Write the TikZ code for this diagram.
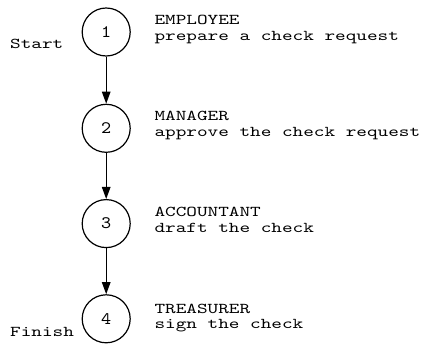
\documentclass[tikz,border=0pt]{standalone}
\usepackage{fontspec}
\usetikzlibrary{arrows.meta}
\newfontfamily\labfont[Extension=.otf, FakeStretch=1.35]{lmmono10-regular}
\newfontfamily\numfont[Extension=.otf, FakeStretch=1.1]{lmmono10-regular}
\tikzset{
  stepcircle/.style={circle, draw, line width=1.2pt, minimum size=48pt, inner sep=0pt, font=\numfont\fontsize{17.5}{18}\selectfont},
  labtext/.style={anchor=base west, inner sep=0pt, font=\labfont\fontsize{15}{16}\selectfont},
  flow/.style={line width=1.2pt, -{Triangle[length=12pt,width=8.5pt]}}
}
\begin{document}
\begin{tikzpicture}[x=1pt,y=-1pt]
\useasboundingbox (0,0) rectangle (424,345);
\node[stepcircle] (c1) at (106.2,32) {1};
\node[stepcircle] (c2) at (106.2,128.3) {2};
\node[stepcircle] (c3) at (106.2,223.6) {3};
\node[stepcircle] (c4) at (106.2,318.8) {4};
\draw[flow] (c1) -- (c2);
\draw[flow] (c2) -- (c3);
\draw[flow] (c3) -- (c4);
\node[labtext] (start) at (10,48.3) {Start};
\node[labtext] (finish) at (10,337) {Finish};
\node[labtext] (r1) at (154.3,25) {EMPLOYEE};
\node[labtext] (t1) at (154.3,41) {prepare a check request};
\node[labtext] (r2) at (154.3,121) {MANAGER};
\node[labtext] (t2) at (154.3,136.8) {approve the check request};
\node[labtext] (r3) at (154.3,217) {ACCOUNTANT};
\node[labtext] (t3) at (154.3,233) {draft the check};
\node[labtext] (r4) at (154.3,313.3) {TREASURER};
\node[labtext] (t4) at (154.3,329) {sign the check};
\end{tikzpicture}
\end{document}
